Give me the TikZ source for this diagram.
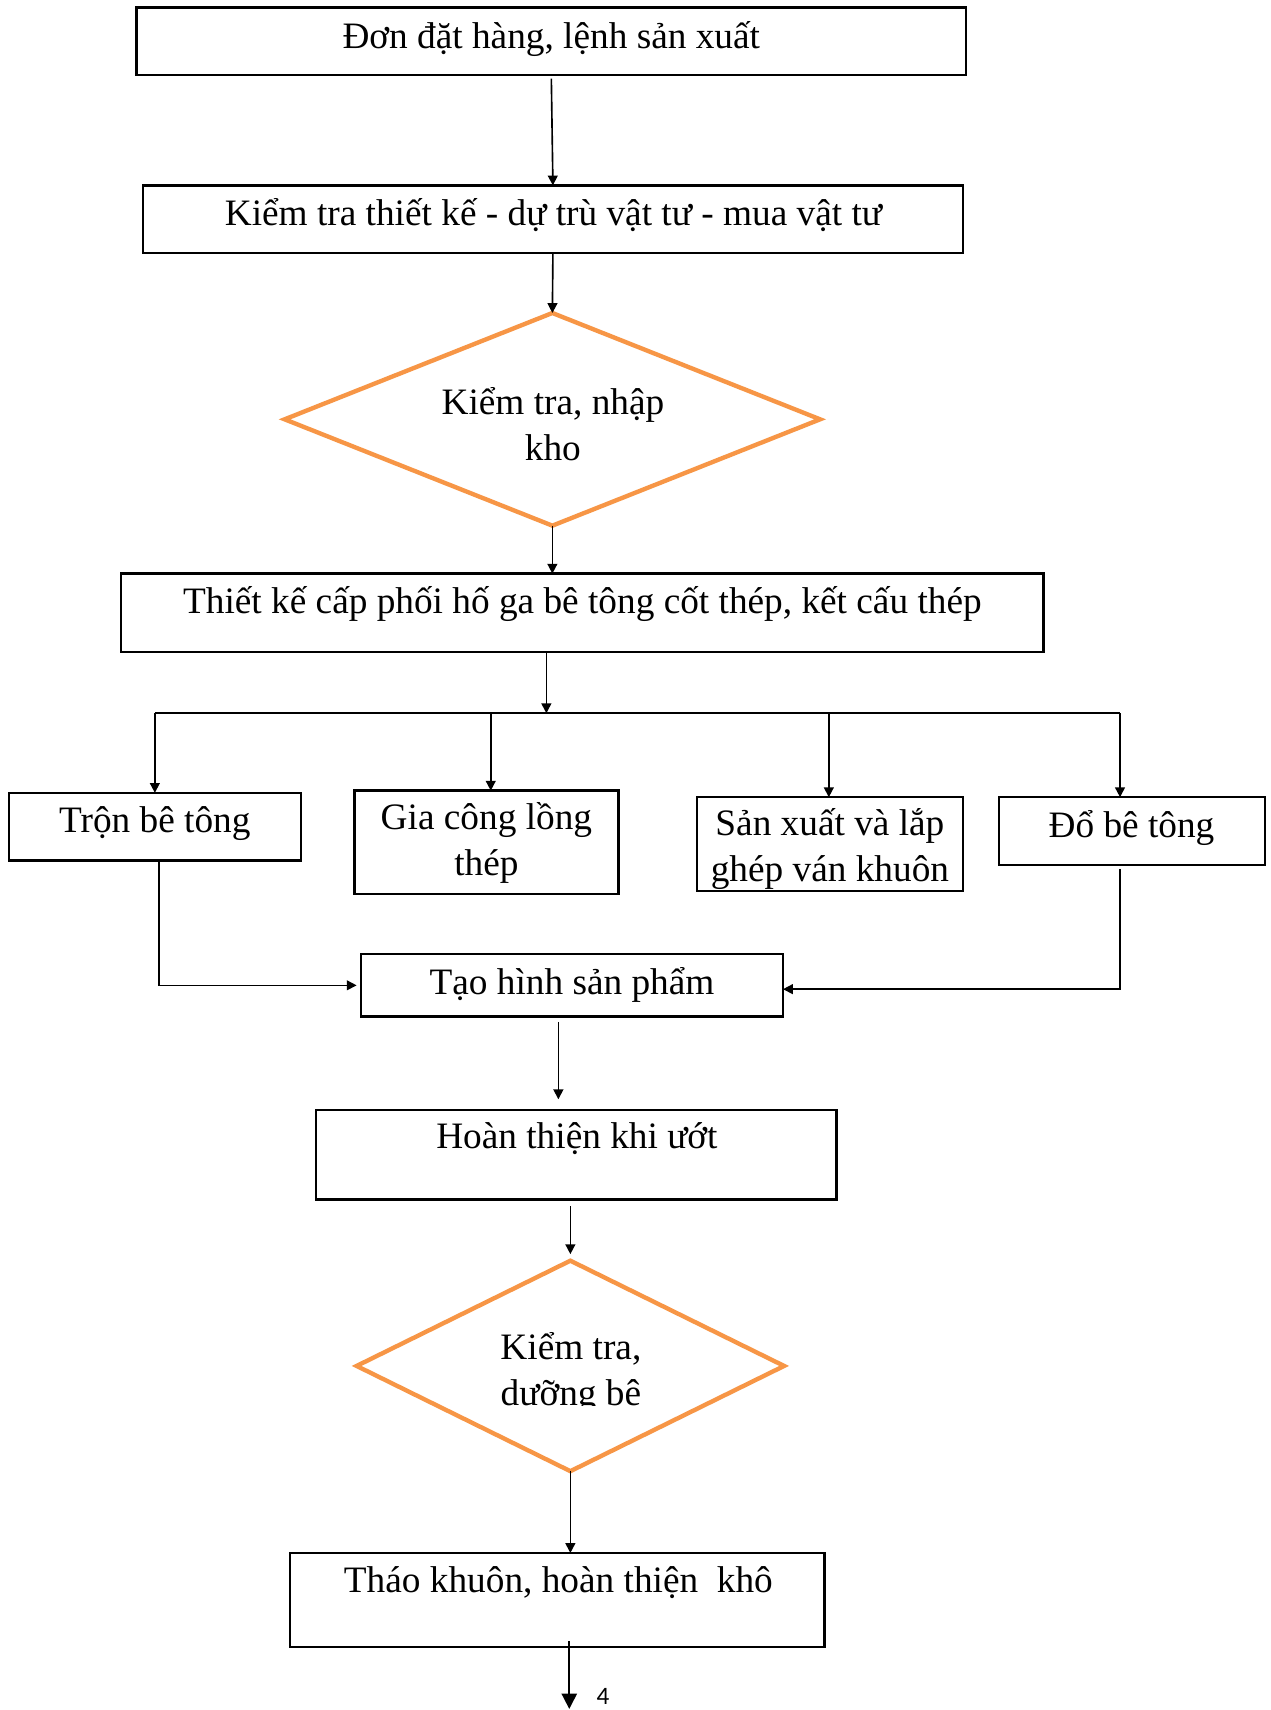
\documentclass[tikz,border=0pt]{standalone}
\usepackage{fontspec}
\setmainfont{Liberation Serif}
\newfontfamily\numfont{Carlito}
\usetikzlibrary{arrows.meta,shapes.geometric,fit}
\definecolor{accorange}{HTML}{F79646}
\begin{document}
\begin{tikzpicture}[x=0.5pt,y=-0.5pt,
 box/.style={draw, line width=1.1pt, inner sep=0pt, outer sep=0pt},
 dia/.style={draw=accorange, line width=2pt, diamond, inner sep=0pt, outer sep=0pt},
 arr/.style={-{Triangle[length=4.5pt,width=4.5pt]}, line width=0.75pt},
 bigarr/.style={-{Triangle[length=7pt,width=7pt]}, line width=0.75pt},
 plain/.style={line width=0.75pt},
 lbl/.style={font=\fontsize{17.1}{21}\selectfont, anchor=base, inner sep=0pt, align=center},
]
\useasboundingbox (0,0) rectangle (1165,1568);
\fill[white] (0,0) rectangle (1165,1568);

% boxes and decisions
\node[box, fit={(125,7) (886,69)}] (b1) {};
\node[lbl] (t1) at (505.5,44.5) {Đơn đặt hàng, lệnh sản xuất};

\node[box, fit={(131,170) (883,232)}] (b2) {};
\node[lbl] (t2) at (507.5,206.5) {Kiểm tra thiết kế - dự trù vật tư - mua vật tư};

\node[dia, minimum width=245.5pt, minimum height=97.5pt] (d1) at (506.5,384.5) {};
\node[lbl] (td1) at (507,422) {Kiểm tra, nhập\\kho};

\node[box, fit={(111,526) (957,598)}] (b3) {};
\node[lbl] (t3) at (534,562.5) {Thiết kế cấp phối hố ga bê tông cốt thép, kết cấu thép};

\node[box, fit={(8,727) (276,789)}] (n1) {};
\node[lbl] (tn1) at (142,763.5) {Trộn bê tông};

\node[box, fit={(325,725) (567,820)}] (n2) {};
\node[lbl] (tn2) at (446,803) {Gia công lồng\\thép};

\node[box, fit={(639,731) (883,817)}] (n3) {};
\node[lbl] (tn3) at (761,808) {Sản xuất và lắp\\ghép ván khuôn};

\node[box, fit={(916,731) (1160,793)}] (n4) {};
\node[lbl] (tn4) at (1037.5,767.5) {Đổ bê tông};

\node[box, fit={(331,875) (718,932)}] (th) {};
\node[lbl] (tth) at (524.5,911.5) {Tạo hình sản phẩm};

\node[box, fit={(290,1018) (767,1100)}] (h) {};
\node[lbl] (th2) at (529,1053.5) {Hoàn thiện khi ướt};

\node[dia, minimum width=196pt, minimum height=96.5pt] (d2) at (523,1252.5) {};
\begin{scope}
\clip (0,0) rectangle (1165,1289);
\node[lbl] (td2) at (523.5,1289) {Kiểm tra,\\dưỡng bê};
\end{scope}

\node[box, fit={(266,1424) (756,1510)}] (tk) {};
\node[lbl] (ttk) at (512,1460.5) {Tháo khuôn, hoàn thiện\ \ khô};

% connectors
\draw[arr, shorten <=1.5pt] (b1.south) -- (b2.north);
\draw[arr] (b2.south) -- (d1.north);
\draw[arr] (d1.south) -- (d1.south |- b3.north);

\coordinate (bc) at (501,654);
\coordinate (bl) at (142,654);
\coordinate (bg) at (450,654);
\coordinate (bs) at (760,654);
\coordinate (br) at (1027,654);
\draw[arr] (b3.south -| bc) -- (bc);
\draw[plain] (bl) -- (br);
\draw[arr] (bl) -- (bl |- n1.north);
\draw[arr] (bg) -- (bg |- n2.north);
\draw[arr] (bs) -- (bs |- n3.north);
\draw[arr] (br) -- (br |- n4.north);

\coordinate (lx) at (146,0);
\draw[arr, shorten >=2pt] (n1.south -| lx) |- (th.west);
\coordinate (ry) at (0,907);
\draw[arr, shorten <=2pt] (n4.south -| br) -- (br |- ry) -- (th.east |- ry);

\coordinate (thx) at (512,0);
\draw[arr, shorten <=2.5pt, shorten >=5pt] (th.south -| thx) -- (h.north -| thx);
\draw[arr, shorten <=3pt, shorten >=3pt] (h.south -| d2.north) -- (d2.north);
\draw[arr] (d2.south) -- (d2.south |- tk.north);

\coordinate (endp) at (522,1567);
\draw[bigarr, shorten <=-2.5pt] (tk.south -| endp) -- (endp);
\node[font=\numfont\fontsize{11.5}{13}\selectfont, anchor=base, inner sep=0pt] (four) at (553,1563) {4};
\end{tikzpicture}
\end{document}
